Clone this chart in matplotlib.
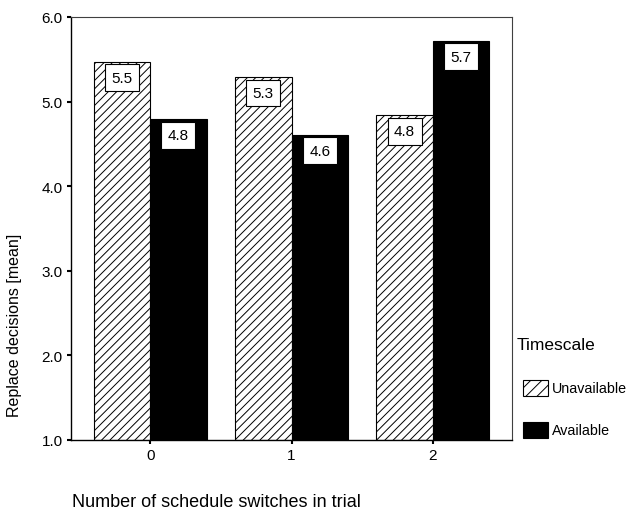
import numpy as np
import matplotlib.pyplot as plt
from matplotlib.patches import Rectangle

plt.rcParams['font.family'] = ['Liberation Sans', 'DejaVu Sans']
plt.rcParams['hatch.linewidth'] = 0.7

# data
switches = ['0', '1', '2']
unavailable = [5.47, 5.29, 4.84]
available = [4.79, 4.61, 5.72]
series = ['Unavailable', 'Available']

fig = plt.figure(figsize=(6.29, 5.10), dpi=100)
ax = fig.add_axes([71/629, 1 - 441/510, (512 - 71)/629, (441 - 18)/510])

x = np.arange(len(switches))
w = 0.4
b1 = ax.bar(x - w/2, np.array(unavailable) - 1.0, w, bottom=1.0, color='white',
            edgecolor='black', hatch='////', linewidth=0.8)
b2 = ax.bar(x + w/2, np.array(available) - 1.0, w, bottom=1.0, color='black',
            edgecolor='black', linewidth=0.8)

# value boxes near the top of each bar
for xs, vals in [(x - w/2, unavailable), (x + w/2, available)]:
    for xi, v in zip(xs, vals):
        ax.annotate('%.1f' % v, (xi, v), xytext=(0, -11.5), textcoords='offset points',
                    ha='center', va='center', fontsize=11,
                    bbox=dict(boxstyle='square,pad=0.42', fc='white', ec='black', lw=0.8))

ax.set_xlim(-0.56, 2.56)
ax.set_ylim(1.0, 6.0)
ax.set_xticks(x)
ax.set_xticklabels(switches, fontsize=11)
ax.set_yticks([1, 2, 3, 4, 5, 6])
ax.set_yticklabels(['1.0', '2.0', '3.0', '4.0', '5.0', '6.0'], fontsize=11)
ax.tick_params(direction='out', length=3, width=1.5, pad=3)
for s in ['left', 'bottom']:
    ax.spines[s].set_linewidth(1.0)
for s in ['top', 'right']:
    ax.spines[s].set_color('#404040')
    ax.spines[s].set_linewidth(0.8)

fig.text(15/629, 1 - 325/510, 'Replace decisions [mean]', rotation=90,
         ha='center', va='center', fontsize=11.5)
fig.text(72/629, 1 - 503/510, 'Number of schedule switches in trial',
         ha='left', va='center', fontsize=13)

# legend
fig.text(517/629, 1 - 345/510, 'Timescale', ha='left', va='center', fontsize=12.5)
handles = [b1[0], b2[0]]
for i, (lab, h) in enumerate(zip(series, handles)):
    yc = 389 + i * 42
    r = Rectangle((523/629, 1 - (yc + 8)/510), 25/629, 16/510,
                  transform=fig.transFigure, facecolor=h.get_facecolor(),
                  edgecolor='black', hatch='///', linewidth=0.8)
    fig.patches.append(r)
    fig.text(552/629, 1 - yc/510, lab, ha='left', va='center', fontsize=10.3)

fig.savefig('out.png', dpi=100)
